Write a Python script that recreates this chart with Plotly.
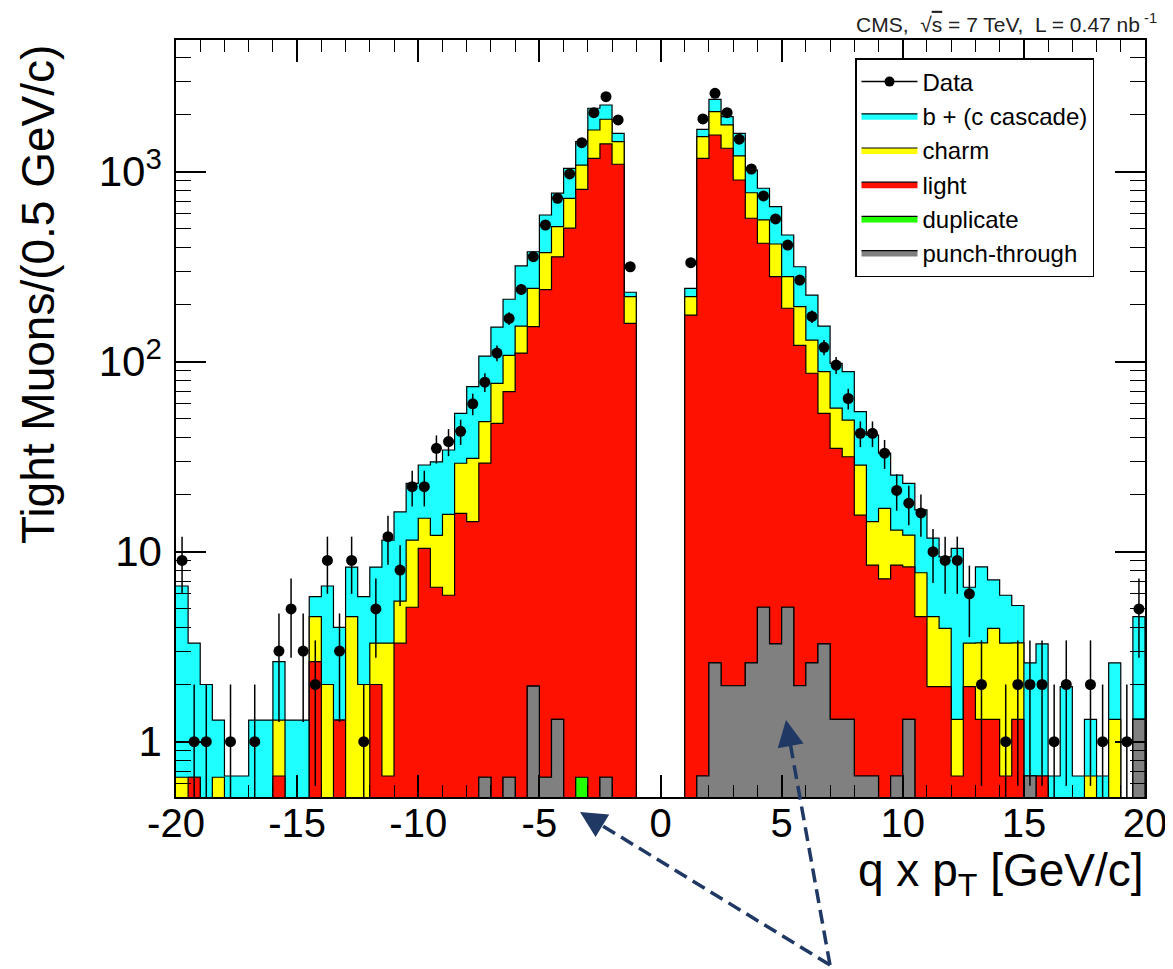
import numpy as np
import plotly.graph_objects as go

# ---------------- data (80 bins of 0.5 GeV/c, q x pT from -20 to 20) ----------------
bin_edges = np.arange(-20.0, 20.001, 0.5)
bin_centers = 0.5 * (bin_edges[:-1] + bin_edges[1:])

data_counts = [9, 1, 1, 0, 1, 0, 1, 0, 3, 5, 3, 2, 9, 3, 9, 1, 5, 12, 8, 22,
               22, 35, 38, 43, 60, 78, 111, 169, 240, 357, 524, 724, 973, 1421, 2045, 2483, 1872, 316, 0, 0,
               0, 0, 332, 1894, 2586, 2045, 1482, 1033, 745, 564, 411, 269, 173, 119, 96, 64, 42, 42, 33, 21,
               18, 16, 10, 9, 9, 6, 2, 0, 1, 2, 2, 2, 1, 2, 0, 2, 1, 0, 1, 5]

punch_through = [0] * 25 + [0.65, 0, 0.65, 0, 1.96, 0.65, 1.31, 0, 0, 0, 0.65, 0, 0, 0, 0, 0, 0,
                            0, 0.66, 2.6, 1.97, 1.97, 2.6, 5.1, 3.27, 5.1, 1.97, 2.6, 3.27, 1.31, 1.31, 0.66, 0.66, 0, 0.66, 1.31,
                            0, 0, 0, 0, 0, 0, 0, 0, 0, 0.66, 0, 0, 0, 0, 0, 0, 0, 0, 1.31]

duplicate = [0] * 33 + [0.65] + [0] * 46

light = [0, 0.65, 0, 0, 0, 0, 0, 0, 0.66, 0, 0, 2.64, 0, 1.3, 0, 0, 2.0, 0.66, 3.3, 5.1,
         10.4, 6.5, 5.9, 15.9, 14.4, 28.6, 47.4, 68.9, 111, 151, 239, 355, 504, 807, 1176, 1399, 1094, 159, 0, 0,
         0, 0, 176, 1175, 1557, 1326, 902, 566, 415, 277, 186, 120, 84.3, 50.2, 33.7, 30.3, 14.9, 7.84, 7.2, 7.84,
         7.0, 4.55, 1.95, 1.95, 0.66, 1.95, 1.31, 1.31, 0.66, 1.31, 0, 0.66, 0, 0, 0, 0, 0, 0, 0, 0]

charm = [0.65, 0, 0, 0.65, 0, 0, 0, 0, 0.64, 0, 0, 1.91, 2.0, 0, 4.55, 2.0, 1.3, 2.64, 2.2, 6.4,
         4.6, 5.7, 9.8, 13.3, 16.6, 19.1, 29.5, 38.5, 43, 90, 135, 158, 220, 276, 481, 488, 344, 61, 0, 0,
         0, 0, 44, 352, 509, 434, 306, 206, 137, 136, 89, 73, 43.1, 35.1, 21.9, 17.7, 13.0, 5.9, 9.7, 4.5,
         3.9, 3.2, 2.6, 2.0, 0.65, 1.35, 2.0, 2.64, 2.64, 2.0, 0, 0, 0, 0, 0, 0.66, 0, 1.31, 0, 0]

b_c_cascade = [5.95, 2.65, 2.0, 0.65, 0.66, 0.66, 1.3, 1.3, 1.34, 1.3, 1.3, 1.25, 4.6, 2.7, 3.75, 3.8, 5.0, 8.2, 10.7, 11.4,
               13.6, 17.5, 18.6, 24.3, 42.9, 58.7, 75.1, 105, 165, 136, 217, 256, 318, 354, 500, 356, 154, 12, 0, 0,
               0, 0, 23, 143, 335, 185, 382, 246, 261, 238, 184, 121, 94, 65.4, 41.1, 39.3, 26, 26.7, 16.1, 12.3,
               10.7, 8.85, 7.25, 5.45, 9.1, 3.2, 5.0, 3.15, 2.6, 1.9, 1.94, 2.61, 0.66, 1.95, 0.66, 0.65, 0.66, 1.29, 0, 3.24]

x_tick_values = [-20, -15, -10, -5, 0, 5, 10, 15, 20]
x_tick_labels = ["-20", "-15", "-10", "-5", "0", "5", "10", "15", "20"]
y_tick_values = [1, 10, 100, 1000]
y_tick_labels = ["1", "10", "10<sup>2</sup>", "10<sup>3</sup>"]

components = [  # bottom of the stack first
    ("punch-through", punch_through, "#808080"),
    ("duplicate", duplicate, "#22FF00"),
    ("light", light, "#FF1100"),
    ("charm", charm, "#FFFF00"),
    ("b + (c cascade)", b_c_cascade, "#1EFFFF"),
]

FONT = "Liberation Sans, Arial, Helvetica, sans-serif"
FLOOR = 1e-3  # below the visible log range, used to close step areas

# figure placed after the page's default 8px body margin
BODY = 8
W, H = 1165, 961
ML, MR, MT, MB = 168, 28, 32, 172
PW, PH = W - ML - MR, H - MT - MB


def to_paper(px, py):
    """page pixel -> paper coordinates"""
    fx, fy = px - BODY, py - BODY
    return (fx - ML) / PW, (H - MB - fy) / PH


fig = go.Figure()

stack = np.cumsum(np.array([c[1] for c in components], dtype=float), axis=0)
legend_rank = {"b + (c cascade)": 2, "charm": 3, "light": 4, "duplicate": 5, "punch-through": 6}

for idx in range(len(components) - 1, -1, -1):
    name, _, color = components[idx]
    level = stack[idx]
    v = np.where(level > 0, level, FLOOR)
    xs = np.concatenate([bin_edges[:-1], [bin_edges[-1], bin_edges[-1], bin_edges[0]]])
    ys = np.concatenate([v, [v[-1], FLOOR, FLOOR]])
    fig.add_trace(go.Scatter(
        x=xs, y=ys, mode="lines", line=dict(shape="hv", color="black", width=1.2),
        fill="toself", fillcolor=color, name=name, legendrank=legend_rank[name],
        hoverinfo="skip"))

# data points with Poisson error bars
counts = np.array(data_counts, dtype=float)
err = np.sqrt(counts)
y_pts = np.where(counts > 0, counts, np.nan)
err_minus = counts - np.maximum(counts - err, 0.05)
fig.add_trace(go.Scatter(
    x=bin_centers, y=y_pts, mode="markers", showlegend=False,
    marker=dict(color="black", size=11),
    error_y=dict(type="data", array=err, arrayminus=err_minus, color="black", thickness=1.5, width=0)))
# legend entry for data (line + marker, as in the original)
fig.add_trace(go.Scatter(x=[None], y=[None], mode="lines+markers", name="Data", legendrank=1,
                         line=dict(color="black", width=1.5), marker=dict(color="black", size=10)))

y_minor = [m * 10 ** e for e in range(-1, 4) for m in range(2, 10)
           if 0.5 <= m * 10 ** e <= 4900]

lx, ly = to_paper(855, 58)
fig.update_layout(
    width=W, height=H,
    margin=dict(l=ML, r=MR, t=MT, b=MB, autoexpand=False),
    paper_bgcolor="white", plot_bgcolor="white",
    font=dict(family=FONT, color="black"),
    showlegend=True,
    legend=dict(x=lx, y=ly, xanchor="left", yanchor="top",
                bgcolor="white", bordercolor="black", borderwidth=1.5,
                font=dict(size=24, family=FONT), tracegroupgap=0, itemwidth=56),
    xaxis=dict(range=[-20, 20], tickmode="array", tickvals=x_tick_values, ticktext=x_tick_labels,
               ticks="inside", ticklen=22, tickwidth=1.5, tickcolor="black",
               minor=dict(ticks="inside", dtick=1, ticklen=12, tickwidth=1.2, tickcolor="black"),
               showline=True, linecolor="black", linewidth=1.5, mirror="allticks",
               showgrid=False, zeroline=False, automargin=False, ticklabeloverflow="allow",
               tickfont=dict(size=40, family=FONT), ticklabelstandoff=-10),
    yaxis=dict(type="log", range=[-0.291, 3.693], tickmode="array", tickvals=y_tick_values,
               ticktext=y_tick_labels,
               ticks="inside", ticklen=30, tickwidth=1.5, tickcolor="black",
               minor=dict(ticks="inside", tickmode="array", tickvals=y_minor, ticklen=15,
                          tickwidth=1.2, tickcolor="black"),
               showline=True, linecolor="black", linewidth=1.5, mirror="allticks",
               showgrid=False, zeroline=False, automargin=False,
               tickfont=dict(size=42, family=FONT), ticklabelstandoff=4),
)

# axis titles (ROOT style: aligned at the end of the axis)
tx_, ty_ = to_paper(1146, 873)
fig.add_annotation(text="q x p<sub>T</sub> [GeV/c]", xref="paper", yref="paper",
                   x=tx_, y=ty_, xanchor="right", yanchor="middle", showarrow=False,
                   font=dict(size=46, family=FONT))
yx_, yy_ = to_paper(38, 295)
fig.add_annotation(text="Tight Muons/(0.5 GeV/c)", xref="paper", yref="paper",
                   x=yx_, y=yy_, xanchor="center", yanchor="middle", textangle=-90,
                   showarrow=False, font=dict(size=46, family=FONT))
cx_, cy_ = to_paper(1159, 23)
fig.add_annotation(text="CMS,  √<span style='text-decoration:overline'>s</span> = 7 TeV,  L = 0.47 nb<sup> -1</sup>",
                   xref="paper", yref="paper",
                   x=cx_, y=cy_, xanchor="right", yanchor="middle", showarrow=False,
                   font=dict(size=21, family=FONT, color="#222222"))

# dashed pointer arrows (overlay annotation of the original figure), in page pixels
ARROW = "#1F3864"
origin_px = (830, 965)
tips_px = [(580, 812), (786, 720)]
ox, oy = to_paper(*origin_px)
for tpx, tpy in tips_px:
    tx, ty = to_paper(tpx, tpy)
    dx, dy = origin_px[0] - tpx, origin_px[1] - tpy
    n = (dx * dx + dy * dy) ** 0.5
    fig.add_shape(type="line", xref="paper", yref="paper", x0=ox, y0=oy, x1=tx, y1=ty,
                  line=dict(color=ARROW, width=3.5, dash="14px,7px"))
    fig.add_annotation(xref="paper", yref="paper", x=tx, y=ty, ax=dx / n * 24, ay=dy / n * 24,
                       text="", showarrow=True, arrowhead=2, arrowsize=1.5, arrowwidth=3.5,
                       arrowcolor=ARROW)

fig.write_html("out.html")
